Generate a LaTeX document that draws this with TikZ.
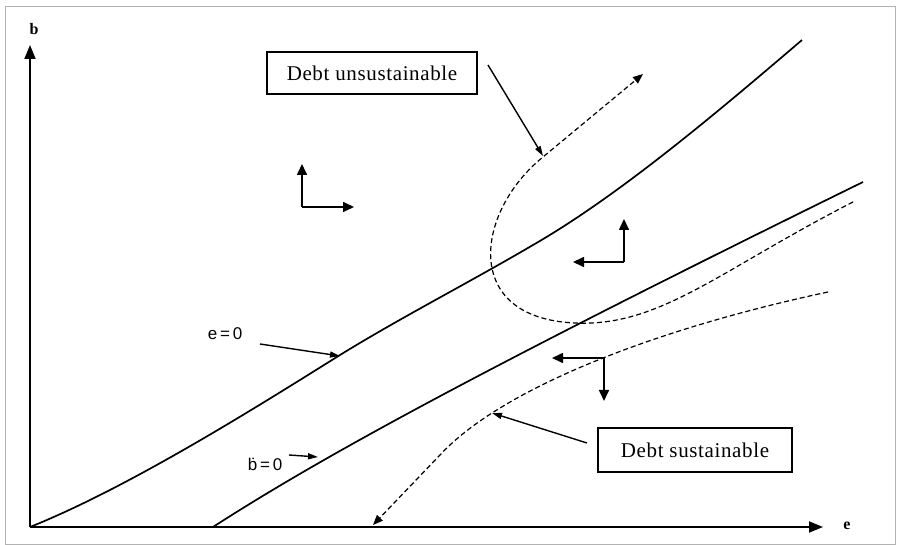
\documentclass[tikz,border=0pt]{standalone}
\usepackage{fontspec}
\setmainfont{Liberation Serif}
\newfontfamily\labfont{Liberation Sans}
\newfontfamily\boxfont[LetterSpace=3]{Liberation Serif}
\usetikzlibrary{arrows.meta}
\begin{document}
\begin{tikzpicture}[x=1pt,y=-1pt,
  curve/.style={line width=1.7pt},
  dcurve/.style={line width=1.2pt, dash pattern=on 5pt off 3pt},
  axis/.style={line width=1.8pt, -{Triangle[length=14pt,width=11pt]}},
  phase/.style={line width=1.6pt, -{Triangle[length=11pt,width=10pt]}},
  pointer/.style={line width=1.4pt, -{Triangle[length=10pt,width=6pt]}},
  dtip/.style={-{Triangle[length=10pt,width=8pt]}},
  labelbox/.style={draw, line width=1.2pt, minimum width=#1, minimum height=42pt, inner sep=0pt, font=\boxfont\fontsize{21}{24}\selectfont},
  axlabel/.style={font=\bfseries\fontsize{16}{18}\selectfont},
  curvelabel/.style={font=\labfont\fontsize{17}{20}\selectfont}
]
\useasboundingbox (0,0) rectangle (900,545);
\draw[gray!60, line width=0.8pt] (5,6) rectangle (895,544);

% axes
\coordinate (O) at (30,527);
\coordinate (ytop) at (30,45);
\coordinate (xend) at (823,527);
\draw[axis] (O) -- (ytop);
\draw[axis] (O) -- (xend);
\node[axlabel] (blab) at (34,29) {b};
\node[axlabel] (elab) at (847,526) {e};

% e = 0 curve
\draw[curve] (30,527) .. controls (130,487) and (260,405) .. (340,355)
  .. controls (400,318) and (470,282) .. (533,245)
  .. controls (620,195) and (720,110) .. (802,40);
% b = 0 line
\draw[curve] (213,527) .. controls (320,458) and (480,370) .. (863,182);

% unsustainable dashed
\draw[dcurve, dtip] (853,202) .. controls (720,270) and (660,327) .. (575,323)
   .. controls (460,318) and (476,211) .. (543,157) -- (643,74);
% sustainable dashed
\draw[dcurve, dtip] (828,292) .. controls (650,330) and (500,390) .. (440,455) -- (373,525);

% boxes
\node[labelbox=210pt] (unsus) at (372,73) {Debt unsustainable};
\node[labelbox=194pt, minimum height=44pt] (sus) at (695,450) {Debt sustainable};
\coordinate (unsusStart) at (488,65);
\coordinate (unsusTip) at (543,156);
\draw[pointer] (unsusStart) -- (unsusTip);
\coordinate (susStart) at (587,443);
\coordinate (susTip) at (492,413);
\draw[pointer] (susStart) -- (susTip);

% curve labels
\node[curvelabel] (elabel) at (225,334) {e\,=\,0};
\node[curvelabel] (blabel) at (265,464) {\.{b}\,=\,0};
\coordinate (eStart) at (260,344);
\coordinate (eTip) at (340,356);
\draw[pointer] (eStart) -- (eTip);
\coordinate (bStart) at (289,455);
\coordinate (bTip) at (318,457);
\draw[pointer] (bStart) -- (bTip);

% phase arrows
\coordinate (c1) at (302,207);
\coordinate (c1u) at (302,164);
\coordinate (c1r) at (354,207);
\draw[phase] (c1) -- (c1u);
\draw[phase] (c1) -- (c1r);
\coordinate (c2) at (624,262);
\coordinate (c2u) at (624,219);
\coordinate (c2l) at (573,262);
\draw[phase] (c2) -- (c2u);
\draw[phase] (c2) -- (c2l);
\coordinate (c3) at (604,358);
\coordinate (c3l) at (552,358);
\coordinate (c3d) at (604,401);
\draw[phase] (c3) -- (c3l);
\draw[phase] (c3) -- (c3d);
\end{tikzpicture}
\end{document}
